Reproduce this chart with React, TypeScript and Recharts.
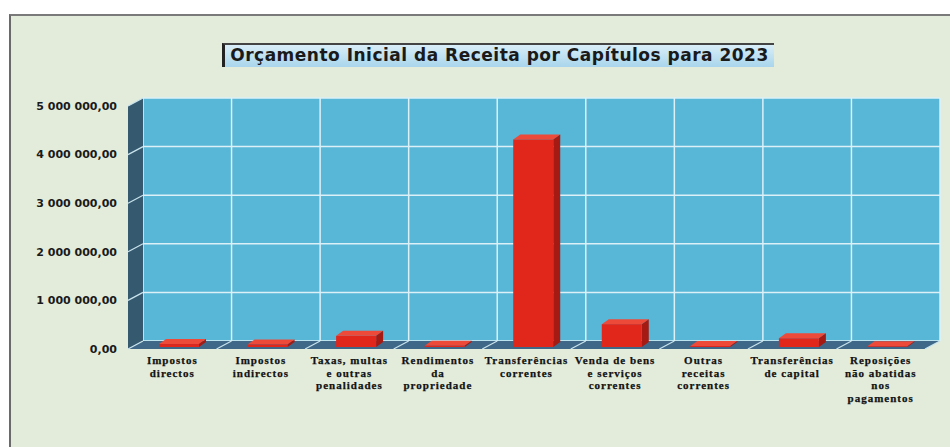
import React from 'react';
import {
  BarChart, Bar, XAxis, YAxis, CartesianGrid, ReferenceArea,
} from 'recharts';

const categories = [
  'Impostos directos',
  'Impostos indirectos',
  'Taxas, multas e outras penalidades',
  'Rendimentos da propriedade',
  'Transferências correntes',
  'Venda de bens e serviços correntes',
  'Outras receitas correntes',
  'Transferências de capital',
  'Reposições não abatidas nos pagamentos',
];

// how each category label is broken into lines under the axis
const labelLines = [
  ['Impostos', 'directos'],
  ['Impostos', 'indirectos'],
  ['Taxas, multas', 'e outras', 'penalidades'],
  ['Rendimentos', 'da', 'propriedade'],
  ['Transferências', 'correntes'],
  ['Venda de bens', 'e serviços', 'correntes'],
  ['Outras', 'receitas', 'correntes'],
  ['Transferências', 'de capital'],
  ['Reposições', 'não abatidas', 'nos', 'pagamentos'],
];

const values = [60000, 50000, 230000, 25000, 4270000, 470000, 20000, 180000, 15000];

const yTicks = [0, 1000000, 2000000, 3000000, 4000000, 5000000];

const data = categories.map((name, i) => ({ name, value: values[i] }));

// depth of the fake 3D box (back wall -> front edge)
const DX = -15;
const DY = 8;

function fmt(v: number) {
  const [int, dec] = v.toFixed(2).split('.');
  return int.replace(/\B(?=(\d{3})+(?!\d))/g, ' ') + ',' + dec;
}

function YTick(props: any) {
  const { x, y, payload } = props;
  return (
    <text x={x - 26} y={y + DY} dy="0.35em" textAnchor="end"
      fontFamily="DejaVu Sans" fontWeight="bold" fontSize={11} fill="#1a1a1a">
      {fmt(payload.value)}
    </text>
  );
}

function XTick(props: any) {
  const { x, y, payload } = props;
  const idx = categories.indexOf(payload.value);
  const lines = labelLines[idx] || [payload.value];
  return (
    <text x={x + DX} y={y + 23} textAnchor="middle"
      fontFamily="Liberation Serif" fontWeight="bold" fontSize={11}
      letterSpacing={1} fill="#121212" stroke="#121212" strokeWidth={0.25}>
      {lines.map((l, i) => (
        <tspan key={i} x={x + DX} dy={i === 0 ? 0 : 12.5}>{l}</tspan>
      ))}
    </text>
  );
}

// side wall + floor drawn around the plot area
function Walls(props: any) {
  const { x, y, width, height } = props;
  const bottom = y + height;
  const side = `${x},${y} ${x},${bottom} ${x + DX},${bottom + DY} ${x + DX},${y + DY}`;
  const floor = `${x},${bottom} ${x + width},${bottom} ${x + width + DX},${bottom + DY} ${x + DX},${bottom + DY}`;
  const cols = categories.length;
  const rows = yTicks.length - 1;
  return (
    <g>
      <polygon points={side} fill="#35596f" />
      <polygon points={floor} fill="#3f6888" />
      {Array.from({ length: rows }, (_, i) => {
        const yy = y + (height / rows) * i;
        return <line key={'s' + i} x1={x} y1={yy} x2={x + DX} y2={yy + DY} stroke="#c9e4ee" strokeWidth={1.2} />;
      })}
      {Array.from({ length: cols + 1 }, (_, i) => {
        const xx = x + (width / cols) * i;
        return <line key={'f' + i} x1={xx} y1={bottom} x2={xx + DX} y2={bottom + DY} stroke="#c9e4ee" strokeWidth={1.2} />;
      })}
    </g>
  );
}

function Bar3D(props: any) {
  const { x, y, width, height } = props;
  const fx = x - 8;
  const fy = y + 6;
  const h = Math.max(height, 0);
  const bx = 7;
  const by = 5;
  return (
    <g>
      <polygon points={`${fx},${fy} ${fx + bx},${fy - by} ${fx + width + bx},${fy - by} ${fx + width},${fy}`} fill="#ee4a3a" />
      <polygon points={`${fx + width},${fy} ${fx + width + bx},${fy - by} ${fx + width + bx},${fy + h - by} ${fx + width},${fy + h}`} fill="#a51a12" />
      <rect x={fx} y={fy} width={width} height={h} fill="#e1261c" />
    </g>
  );
}

export default function App() {
  return (
    <div style={{ position: 'absolute', left: 0, top: 0, width: 950, height: 447, background: '#ffffff', overflow: 'hidden' }}>
      <div style={{
        position: 'absolute', left: 9, top: 14, width: 941, height: 433,
        background: '#e3ecdb', borderLeft: '2px solid #6a6a6a', borderTop: '2px solid #7a7a7a',
        boxSizing: 'border-box',
      }} />
      <div style={{
        position: 'absolute', left: 222, top: 43, width: 552, height: 24, boxSizing: 'border-box',
        background: 'linear-gradient(to bottom, #d9eef8, #a9d5ec)',
        borderLeft: '3px solid #222', borderTop: '2px solid #444',
        fontFamily: 'DejaVu Sans', fontWeight: 'bold', fontSize: 17, letterSpacing: 0.5, color: '#1a1a1a',
        textAlign: 'center', lineHeight: '21px', whiteSpace: 'nowrap',
      }}>
        Orçamento Inicial da Receita por Capítulos para 2023
      </div>
      <div style={{ position: 'absolute', left: 0, top: 0 }}>
        <BarChart width={950} height={447} data={data}
          margin={{ top: 98, right: 10, bottom: 76, left: 83 }}>
          <CartesianGrid
            fill="#58b6d6" fillOpacity={1}
            stroke="#dcf0f7" strokeWidth={1.5}
            verticalCoordinatesGenerator={({ offset }: any) =>
              Array.from({ length: categories.length + 1 }, (_, i) => offset.left + (offset.width / categories.length) * i)}
          />
          <ReferenceArea y1={0} y2={5000000} shape={<Walls />} ifOverflow="visible" />
          <XAxis dataKey="name" interval={0} tickLine={false} axisLine={false}
            tickSize={0} tickMargin={0} height={30} tick={<XTick />} />
          <YAxis domain={[0, 5000000]} ticks={yTicks} width={60} tickLine={false}
            axisLine={false} tickSize={0} tickMargin={0} tick={<YTick />} />
          <Bar dataKey="value" barSize={40} isAnimationActive={false} shape={<Bar3D />} />
        </BarChart>
      </div>
    </div>
  );
}
